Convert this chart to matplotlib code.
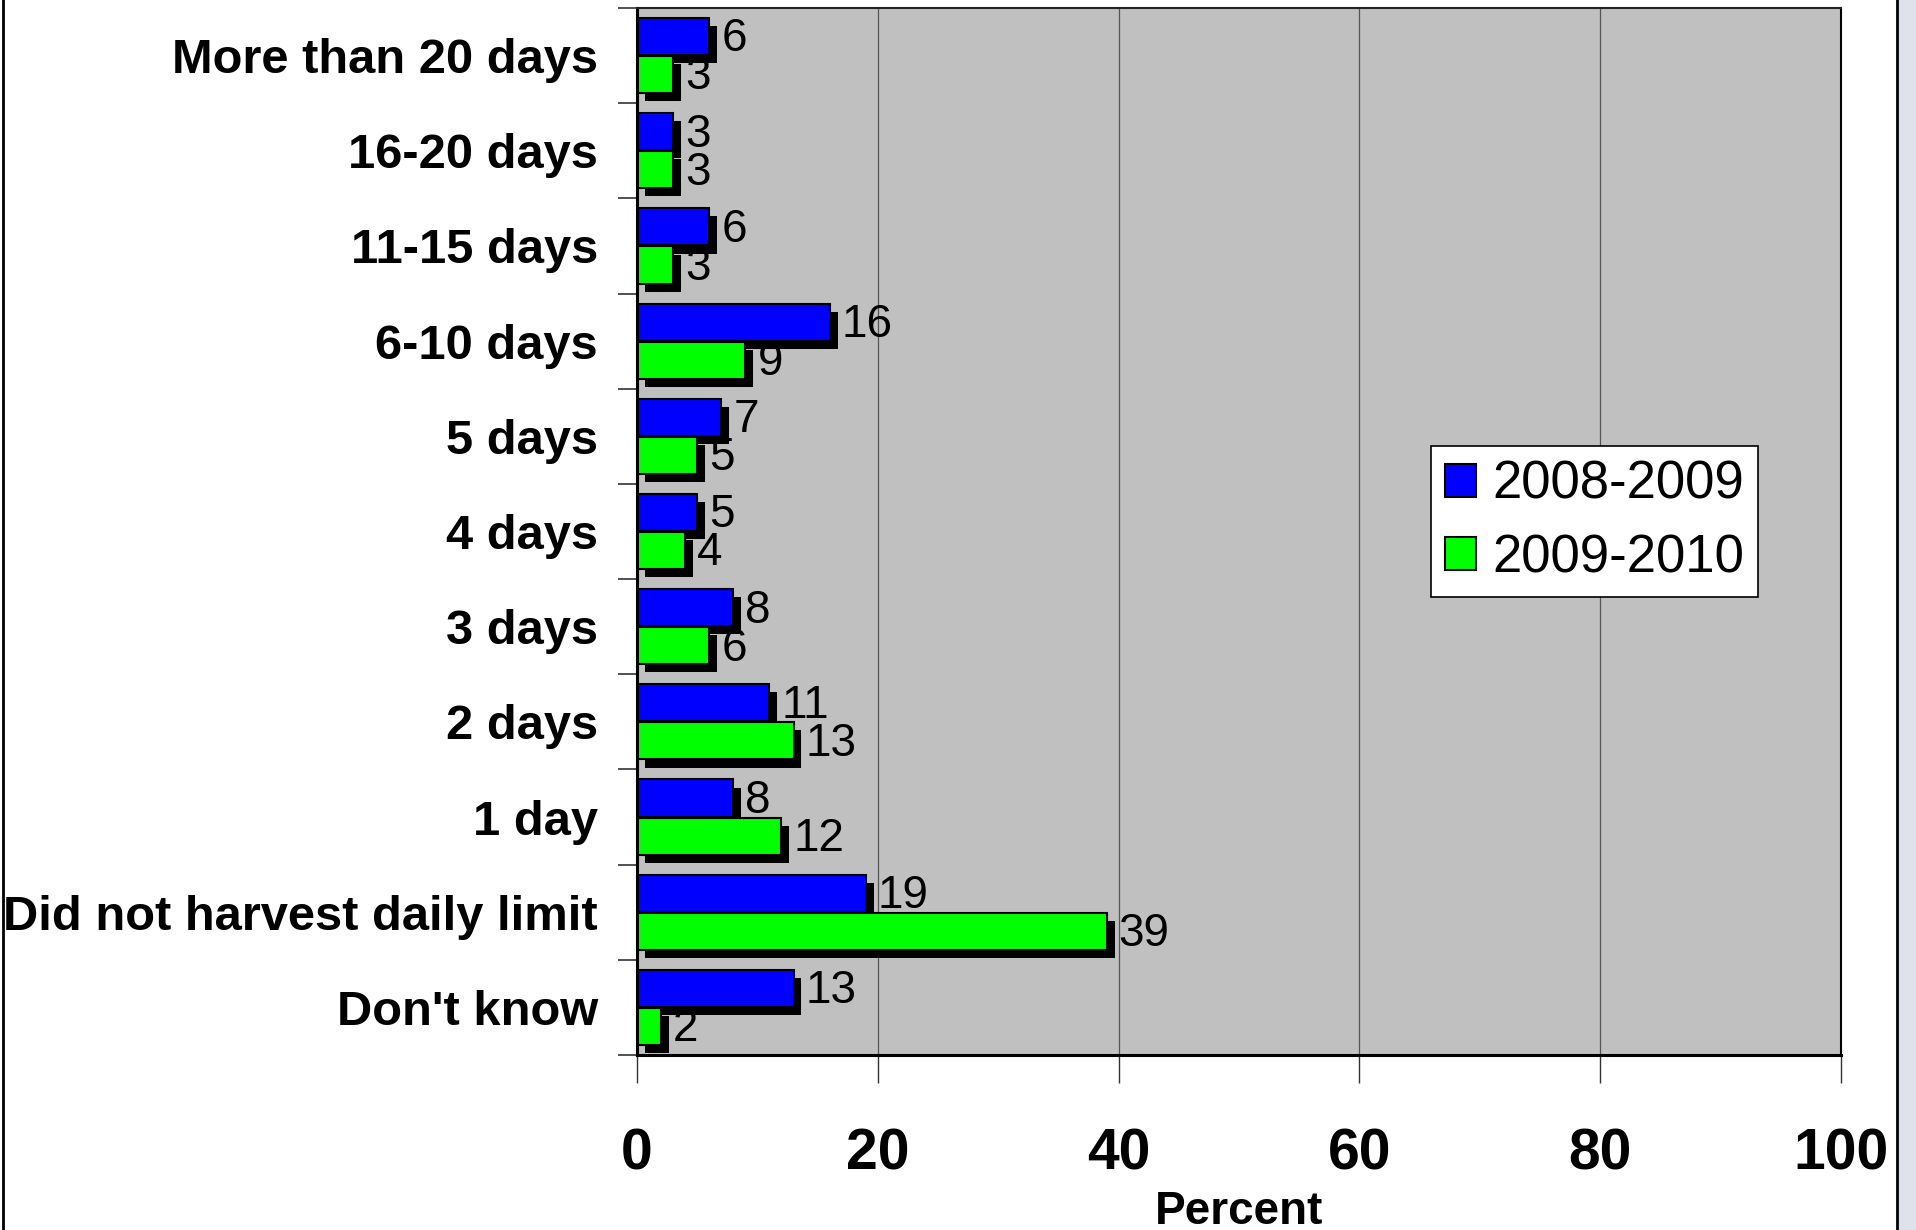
import matplotlib
matplotlib.use("Agg")
import matplotlib.pyplot as plt
import numpy as np
from matplotlib.lines import Line2D
from matplotlib.patches import Rectangle

categories = ["More than 20 days", "16-20 days", "11-15 days", "6-10 days", "5 days",
              "4 days", "3 days", "2 days", "1 day", "Did not harvest daily limit", "Don't know"]
s2008 = [6, 3, 6, 16, 7, 5, 8, 11, 8, 19, 13]
s2009 = [3, 3, 3, 9, 5, 4, 6, 13, 12, 39, 2]
series_names = ["2008-2009", "2009-2010"]
xticks = [0, 20, 40, 60, 80, 100]

plt.rcParams['font.family'] = ['Liberation Sans', 'DejaVu Sans']

fig = plt.figure(figsize=(19.16, 12.30), dpi=100)
fig.patch.set_facecolor('white')
W, H = 1916, 1230
ax = fig.add_axes([637 / W, 1 - 1055 / H, (1841 - 637) / W, (1055 - 8) / H])
ax.set_facecolor('#C0C0C0')

n = len(categories)
y = np.arange(n)
h = 0.39
dx = 0.66   # shadow offset in data units (x)
dy = 0.085  # shadow offset in category units (y)

yb = y - 0.2
yg = y + 0.2
# shadows
ax.barh(yb + dy, s2008, height=h, left=dx, color='black', zorder=2)
ax.barh(yg + dy, s2009, height=h, left=dx, color='black', zorder=2)
ax.barh(yb, s2008, height=h, color='#0000FF', edgecolor='black', linewidth=1.5, zorder=3, label=series_names[0])
ax.barh(yg, s2009, height=h, color='#00FF00', edgecolor='black', linewidth=1.5, zorder=3, label=series_names[1])

for yi, v in zip(yb, s2008):
    ax.text(v + dx + 0.35, yi + 0.03, str(v), fontsize=33, va='center', ha='left', zorder=4)
for yi, v in zip(yg, s2009):
    ax.text(v + dx + 0.35, yi + 0.03, str(v), fontsize=33, va='center', ha='left', zorder=4)

ax.set_xlim(0, 100)
ax.set_ylim(n - 0.5, -0.5)
ax.set_yticks(np.arange(n + 1) - 0.5)
ax.set_yticklabels([])
ax.set_yticks(y, minor=True)
ax.set_yticklabels(categories, minor=True, fontsize=35.2, fontweight='bold')
ax.tick_params(axis='y', which='major', length=14, width=1.2, direction='out', color='#333333')
ax.tick_params(axis='y', which='minor', length=0, pad=28)

ax.set_xticks(xticks)
ax.set_xticklabels([str(t) for t in xticks], fontsize=41, fontweight='bold')
ax.tick_params(axis='x', length=20, width=1.0, pad=32, color='#333333')
ax.set_xlabel("Percent", fontsize=33, fontweight='bold', labelpad=0)
ax.xaxis.set_label_coords(0.5, -0.129)

for xv in xticks[1:-1]:
    ax.axvline(xv, color='#555555', linewidth=0.9, zorder=1)

ax.spines['left'].set_linewidth(2.2)
ax.spines['bottom'].set_linewidth(2.2)
ax.spines['top'].set_linewidth(1.5)
ax.spines['top'].set_color('#222222')
ax.spines['right'].set_linewidth(1.5)
for s in ax.spines.values():
    s.set_zorder(5)

leg = ax.legend(loc='upper left', bbox_to_anchor=((1431 - 637) / (1841 - 637), (1055 - 446) / (1055 - 8)),
                borderaxespad=0,
                fontsize=38, frameon=True, fancybox=False, edgecolor='black', framealpha=1,
                handlelength=0.59, handleheight=0.59, handletextpad=0.32, borderpad=0.26, labelspacing=0.45)
leg.get_frame().set_linewidth(1.2)

# figure border decorations
fig.add_artist(Rectangle((1898 / W, 0), 1 - 1898 / W, 1, transform=fig.transFigure,
                         facecolor='#DFE1EB', edgecolor='none', zorder=0))
fig.add_artist(Line2D([2.5 / W, 2.5 / W], [0, 1], transform=fig.transFigure, color='black', linewidth=2))
fig.add_artist(Line2D([1897 / W, 1897 / W], [0, 1], transform=fig.transFigure, color='black', linewidth=2))

fig.savefig("out.png", dpi=100)
